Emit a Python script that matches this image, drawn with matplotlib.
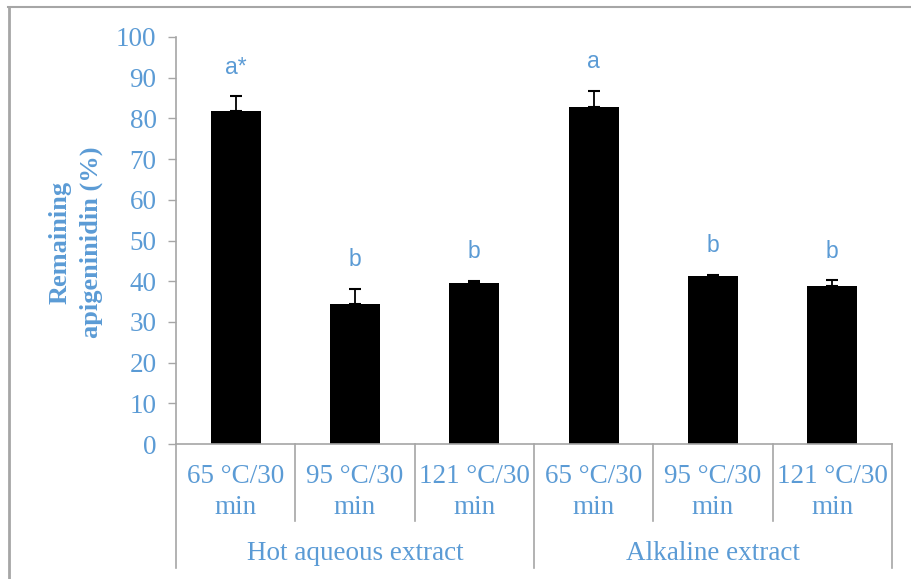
import numpy as np
import matplotlib.pyplot as plt
from matplotlib.lines import Line2D

# data
groups = ['Hot aqueous extract', 'Alkaline extract']
conditions = ['65 °C/30\nmin', '95 °C/30\nmin', '121 °C/30\nmin',
              '65 °C/30\nmin', '95 °C/30\nmin', '121 °C/30\nmin']
remaining = [81.8, 34.3, 39.6, 82.7, 41.2, 38.7]
errors = [3.6, 3.8, 0.4, 4.1, 0.3, 1.5]
letters = ['a*', 'b', 'b', 'a', 'b', 'b']

blue = '#5B9BD5'
grey = '#A6A6A6'
serif = 'Liberation Serif'

fig = plt.figure(figsize=(9.11, 5.79), dpi=100)
ax = fig.add_axes([176/911, 1-444/579, 716/911, 407/579])

x = np.arange(len(remaining))
ax.bar(x, remaining, width=0.42, color='black', zorder=2)
ax.errorbar(x, remaining, yerr=[np.zeros(len(errors)), errors], fmt='none',
            ecolor='black', elinewidth=1.3, capsize=4.5, capthick=1.5, zorder=3)

for xi, v, e, lab in zip(x, remaining, errors, letters):
    ax.text(xi, v + e + 7.2, lab, ha='center', va='center', color=blue,
            fontsize=16.5, family='Liberation Sans')

ax.set_xlim(-0.5, 5.5)
ax.set_ylim(0, 100)
ax.set_yticks(np.arange(0, 101, 10))
ax.set_xticks([])
ax.tick_params(axis='y', direction='out', length=6, width=1, color=grey,
               labelcolor=blue, labelsize=19.5, pad=8)
for t in ax.get_yticklabels():
    t.set_family(serif)
for s in ['top', 'right']:
    ax.spines[s].set_visible(False)
for s in ['left', 'bottom']:
    ax.spines[s].set_color(grey)
    ax.spines[s].set_linewidth(1.2)

# category labels and separators
for i, c in enumerate(conditions):
    ax.text(i, -11.8, c, ha='center', va='center', color=blue, fontsize=19.5,
            family=serif, linespacing=1.3, clip_on=False)
for i in range(7):
    bottom = -30.5 if i in (0, 3, 6) else -19.0
    ax.plot([i - 0.5, i - 0.5], [0, bottom], color=grey, lw=1.2, clip_on=False)
for g, gx in zip(groups, [1, 4]):
    ax.text(gx, -27.0, g, ha='center', va='center', color=blue, fontsize=19.5,
            family=serif, clip_on=False)

fig.text(76/911, 1-242/579, 'Remaining\napigeninidin (%)', rotation=90,
         ha='center', va='center', multialignment='center', color=blue,
         fontsize=19, fontweight='bold', family=serif, linespacing=1.45)

# chart frame (top and left edges)
fig.add_artist(Line2D([8.5/911, 8.5/911], [0, 1-7/579], color=grey, lw=2))
fig.add_artist(Line2D([8/911, 1], [1-7/579, 1-7/579], color=grey, lw=1.5))

fig.savefig('out.png', dpi=100)
